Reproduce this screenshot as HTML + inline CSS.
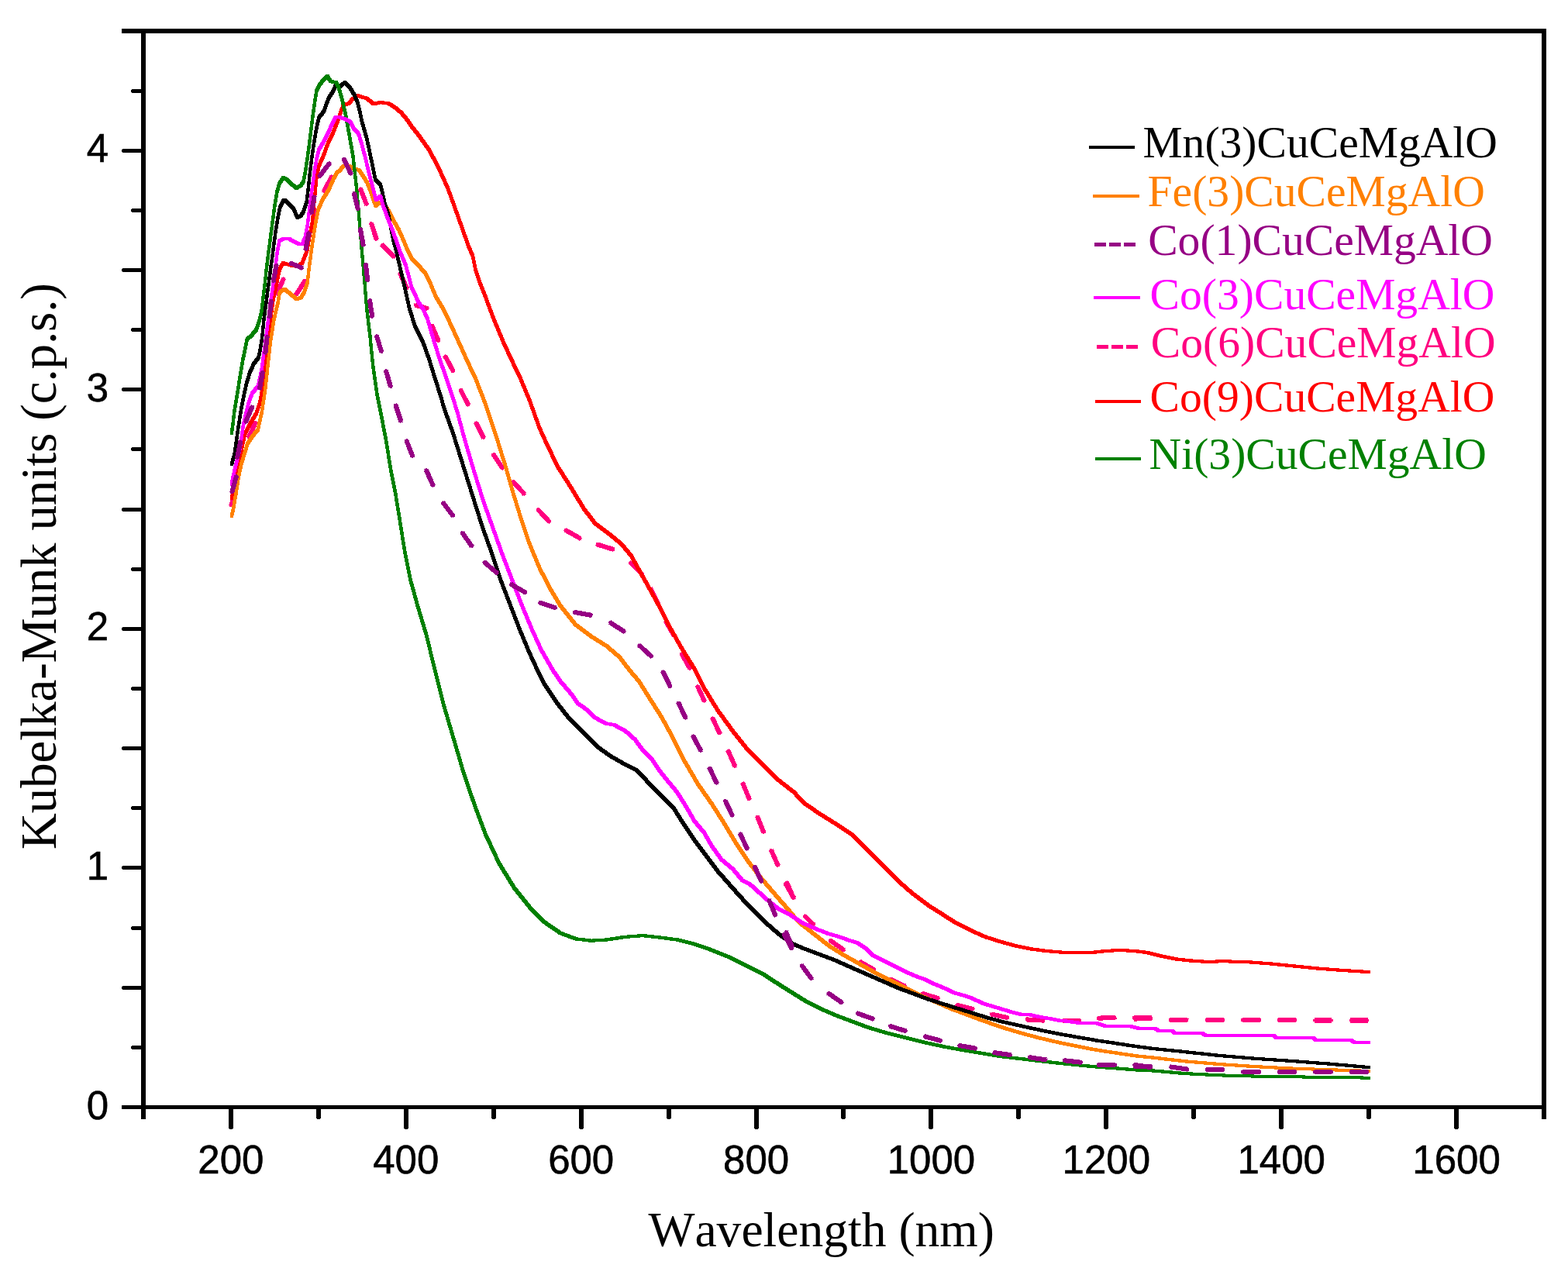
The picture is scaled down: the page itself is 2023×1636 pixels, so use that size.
<!DOCTYPE html>
<html lang="en"><head><meta charset="utf-8"><title>Kubelka-Munk spectra</title>
<style>
html,body{margin:0;padding:0;background:#fff;}
body{width:2023px;height:1636px;overflow:hidden;}
svg{display:block;}
.tk{font-family:"Liberation Sans",sans-serif;font-size:51px;fill:#000;stroke:#000;stroke-width:0.6px;}
.ti{font-family:"Liberation Serif",serif;fill:#000;font-kerning:none;}
.lg{font-family:"Liberation Serif",serif;font-size:57.6px;}
.cv{fill:none;stroke-width:4;stroke-linejoin:round;stroke-linecap:round;}
.ds{fill:none;stroke-width:6.2;stroke-linecap:round;}
</style></head><body>
<svg width="2023" height="1636" viewBox="0 0 2023 1636">
<rect x="0" y="0" width="2023" height="1636" fill="#ffffff"/>
<g shape-rendering="crispEdges">
<path fill="none" stroke="#FF0080" stroke-width="3.7" d="M298.0,654.1L304.5,629.4M320.1,566.5L330.5,543.2M355.8,380.9L366.8,358.0M380.8,382.0L394.6,360.5M403.0,293.1L406.5,267.9M416.8,248.6L429.1,226.2M464.3,241.9L473.7,265.7M478.4,286.2L486.3,310.4M491.5,314.7L509.6,332.8M515.3,350.8L526.0,373.9M534.0,393.0L553.2,398.6M556.5,418.2L566.4,441.6M573.5,458.0L585.6,480.5M593.3,501.2L604.9,523.9M613.3,543.8L624.8,566.5M635.5,584.7L649.6,606.0M660.5,620.0L677.8,638.7M692.6,655.8L709.9,674.5M727.8,683.0L750.1,695.5M768.8,701.9L793.2,709.4M812.1,724.7L830.2,742.8M838.3,757.5L849.7,780.4M858.1,799.9L870.7,822.1M878.6,841.9L891.0,864.3M899.1,883.3L909.6,906.4M918.5,924.9L929.4,948.0M938.7,967.0L949.0,990.4M957.8,1009.1L967.4,1032.8M976.4,1052.0L986.0,1075.6M994.2,1095.2L1004.5,1118.5M1012.6,1138.4L1025.3,1160.5M1014.3,1136.8L1024.5,1160.2M1037.0,1180.4L1051.2,1194.5M1069.5,1212.3L1090.4,1226.8M1107.8,1239.8L1129.9,1252.5M1146.2,1262.4L1169.4,1273.2M1188.2,1281.3L1212.6,1288.9M1232.5,1296.2L1257.3,1302.4M1276.9,1308.2L1301.9,1313.4M1323.0,1315.3L1348.4,1316.7M1369.3,1316.6L1394.8,1316.6M1415.1,1313.7L1440.5,1312.8M1461.4,1312.8L1486.9,1313.5M1461.7,1314.6L1487.2,1313.8M1508.0,1315.8L1533.5,1316.2M1554.7,1315.8L1580.2,1315.8M1601.3,1315.8L1626.8,1315.8M1647.7,1315.8L1673.2,1315.8M1694.2,1316.5L1719.7,1316.5M1740.8,1316.5L1766.2,1316.5"/>
<path fill="none" stroke="#FF0080" stroke-width="6.1" d="M298.3,652.8L304.2,630.7M320.6,565.3L330.0,544.4M356.4,379.7L366.2,359.2M381.5,380.9L393.9,361.6M403.2,291.8L406.3,269.2M417.4,247.5L428.5,227.3M464.8,243.1L473.2,264.5M478.8,287.4L485.9,309.2M492.4,315.6L508.7,331.9M515.8,352.0L525.5,372.7M535.2,393.4L552.0,398.2M557.0,419.4L565.9,440.4M574.1,459.1L585.0,479.4M593.9,502.4L604.3,522.7M613.9,545.0L624.2,565.3M636.2,585.8L648.9,604.9M661.4,621.0L676.9,637.7M693.5,656.8L709.0,673.5M728.9,683.6L749.0,694.9M770.0,702.3L792.0,709.0M813.0,725.6L829.3,741.9M838.9,758.7L849.1,779.2M858.7,801.0L870.1,821.0M879.2,843.0L890.4,863.2M899.6,884.5L909.1,905.2M919.1,926.1L928.8,946.8M939.2,968.2L948.5,989.2M958.3,1010.3L966.9,1031.6M976.9,1053.2L985.5,1074.4M994.7,1096.4L1004.0,1117.3M1013.2,1139.5L1024.7,1159.4M1014.8,1138.0L1024.0,1159.0M1037.9,1181.3L1050.3,1193.6M1070.6,1213.0L1089.3,1226.1M1108.9,1240.4L1128.8,1251.9M1147.4,1262.9L1168.2,1272.7M1189.4,1281.7L1211.4,1288.5M1233.8,1296.5L1256.0,1302.1M1278.2,1308.5L1300.6,1313.1M1324.3,1315.4L1347.1,1316.6M1370.6,1316.6L1393.5,1316.6M1416.4,1313.7L1439.2,1312.8M1462.7,1312.8L1485.6,1313.5M1463.0,1314.6L1485.9,1313.8M1509.3,1315.8L1532.2,1316.2M1556.0,1315.8L1578.9,1315.8M1602.6,1315.8L1625.5,1315.8M1649.0,1315.8L1671.9,1315.8M1695.5,1316.5L1718.4,1316.5M1742.1,1316.5L1764.9,1316.5"/>
<path fill="#FF0000" fill-rule="nonzero" d="M296.7,640.5 299.8,630.1 303.8,630.1 303.8,634.1 300.7,644.5 296.7,644.5ZM299.8,630.1 303.2,612.3 307.2,612.3 307.2,616.3 303.8,634.1 299.8,634.1ZM303.2,612.3 307,594.4 311,594.4 311,598.4 307.2,616.3 303.2,616.3ZM307,594.4 310.4,574.4 314.4,574.4 314.4,578.4 311,598.4 307,598.4ZM310.4,574.4 313.9,558.6 317.9,558.6 317.9,562.6 314.4,578.4 310.4,578.4ZM313.9,558.6 321.1,543.8 325.1,543.8 325.1,547.8 317.9,562.6 313.9,562.6ZM321.1,543.8 328.5,531.9 332.5,531.9 332.5,535.9 325.1,547.8 321.1,547.8ZM328.5,531.9 333,518.5 337,518.5 337,522.5 332.5,535.9 328.5,535.9ZM333,518.5 336.7,499.2 340.7,499.2 340.7,503.2 337,522.5 333,522.5ZM336.7,499.2 339.6,476.9 343.6,476.9 343.6,480.9 340.7,503.2 336.7,503.2ZM339.6,476.9 341.9,454.7 345.9,454.7 345.9,458.7 343.6,480.9 339.6,480.9ZM341.9,454.7 344.8,425 348.8,425 348.8,429 345.9,458.7 341.9,458.7ZM344.8,425 347.8,404.2 351.8,404.2 351.8,408.2 348.8,429 344.8,429ZM347.8,404.2 350.8,383.4 354.8,383.4 354.8,387.4 351.8,408.2 347.8,408.2ZM350.8,383.4 355.2,362.6 359.2,362.6 359.2,366.6 354.8,387.4 350.8,387.4ZM355.2,362.6 358.9,344.8 362.9,344.8 362.9,348.8 359.2,366.6 355.2,366.6ZM358.9,344.8 363.4,337.3 367.4,337.3 367.4,341.3 362.9,348.8 358.9,348.8ZM363.4,337.3 367.4,337.3 377.1,340.3 377.1,344.3 373.1,344.3 363.4,341.3ZM373.1,340.3 377.1,340.3 386,341.8 386,345.8 382,345.8 373.1,344.3ZM382,341.8 387.9,337.3 391.9,337.3 391.9,341.3 386,345.8 382,345.8ZM387.9,337.3 394.4,321 398.4,321 398.4,325 391.9,341.3 387.9,341.3ZM394.4,321 397.7,300.8 401.7,300.8 401.7,304.8 398.4,325 394.4,325ZM397.7,300.8 400.7,285.9 404.7,285.9 404.7,289.9 401.7,304.8 397.7,304.8ZM400.7,285.9 404.4,248.8 408.4,248.8 408.4,252.8 404.7,289.9 400.7,289.9ZM404.4,248.8 406.6,226.5 410.6,226.5 410.6,230.5 408.4,252.8 404.4,252.8ZM406.6,226.5 409.6,211.7 413.6,211.7 413.6,215.7 410.6,230.5 406.6,230.5ZM409.6,211.7 415.5,198.3 419.5,198.3 419.5,202.3 413.6,215.7 409.6,215.7ZM415.5,198.3 421.5,182 425.5,182 425.5,186 419.5,202.3 415.5,202.3ZM421.5,182 427.4,170.1 431.4,170.1 431.4,174.1 425.5,186 421.5,186ZM427.4,170.1 433.3,155.2 437.3,155.2 437.3,159.2 431.4,174.1 427.4,174.1ZM433.3,155.2 437.8,141.9 441.8,141.9 441.8,145.9 437.3,159.2 433.3,159.2ZM437.8,141.9 441.4,133 445.4,133 445.4,137 441.8,145.9 437.8,145.9ZM441.4,133 447.3,132.2 451.3,132.2 451.3,136.2 445.4,137 441.4,137ZM447.3,132.2 453.3,125.5 457.3,125.5 457.3,129.5 451.3,136.2 447.3,136.2ZM453.3,125.5 459.2,121.1 463.2,121.1 463.2,125.1 457.3,129.5 453.3,129.5ZM459.2,121.1 463.2,121.1 469.1,123.3 469.1,127.3 465.1,127.3 459.2,125.1ZM465.1,123.3 469.1,123.3 475.1,124.8 475.1,128.8 471.1,128.8 465.1,127.3ZM471.1,124.8 475.1,124.8 484,132.2 484,136.2 480,136.2 471.1,128.8ZM480,132.2 488.9,130 492.9,130 492.9,134 484,136.2 480,136.2ZM488.9,130 492.9,130 503.3,131.5 503.3,135.5 499.3,135.5 488.9,134ZM499.3,131.5 503.3,131.5 510.7,135.9 510.7,139.9 506.7,139.9 499.3,135.5ZM506.7,135.9 510.7,135.9 519.6,143.3 519.6,147.3 515.6,147.3 506.7,139.9ZM515.6,143.3 519.6,143.3 527.1,152.3 527.1,156.3 523.1,156.3 515.6,147.3ZM523.1,152.3 527.1,152.3 533,161.2 533,165.2 529,165.2 523.1,156.3ZM529,161.2 533,161.2 540.4,170.1 540.4,174.1 536.4,174.1 529,165.2ZM536.4,170.1 540.4,170.1 547.9,180.5 547.9,184.5 543.9,184.5 536.4,174.1ZM543.9,180.5 547.9,180.5 555.3,190.9 555.3,194.9 551.3,194.9 543.9,184.5ZM551.3,190.9 555.3,190.9 562,203.4 562,207.4 558,207.4 551.3,194.9ZM558,203.4 562,203.4 570.9,221.2 570.9,225.2 566.9,225.2 558,207.4ZM566.9,221.2 570.9,221.2 579.8,240.8 579.8,244.8 575.8,244.8 566.9,225.2ZM575.8,240.8 579.8,240.8 588.8,265.8 588.8,269.8 584.8,269.8 575.8,244.8ZM584.8,265.8 588.8,265.8 597.7,290.8 597.7,294.8 593.7,294.8 584.8,269.8ZM593.7,290.8 597.7,290.8 606.6,315.8 606.6,319.8 602.6,319.8 593.7,294.8ZM602.6,315.8 606.6,315.8 612,328.3 612,332.3 608,332.3 602.6,319.8ZM608,328.3 612,328.3 615.5,346.1 615.5,350.1 611.5,350.1 608,332.3ZM611.5,346.1 615.5,346.1 620.9,362.2 620.9,366.2 616.9,366.2 611.5,350.1ZM616.9,362.2 620.9,362.2 628,380 628,384 624,384 616.9,366.2ZM624,380 628,380 635.2,399.7 635.2,403.7 631.2,403.7 624,384ZM631.2,399.7 635.2,399.7 642.3,417.5 642.3,421.5 638.3,421.5 631.2,403.7ZM638.3,417.5 642.3,417.5 651.2,438.9 651.2,442.9 647.2,442.9 638.3,421.5ZM647.2,438.9 651.2,438.9 661.9,462.1 661.9,466.1 657.9,466.1 647.2,442.9ZM657.9,462.1 661.9,462.1 673,485.2 673,489.2 669,489.2 657.9,466.1ZM669,485.2 673,485.2 685.4,514.8 685.4,518.8 681.4,518.8 669,489.2ZM681.4,514.8 685.4,514.8 697.7,549.4 697.7,553.4 693.7,553.4 681.4,518.8ZM693.7,549.4 697.7,549.4 710.1,576.6 710.1,580.6 706.1,580.6 693.7,553.4ZM706.1,576.6 710.1,576.6 722.4,601.4 722.4,605.4 718.4,605.4 706.1,580.6ZM718.4,601.4 722.4,601.4 739.7,628.5 739.7,632.5 735.7,632.5 718.4,605.4ZM735.7,628.5 739.7,628.5 754.6,653.3 754.6,657.3 750.6,657.3 735.7,632.5ZM750.6,653.3 754.6,653.3 769.4,673 769.4,677 765.4,677 750.6,657.3ZM765.4,673 769.4,673 789.2,687.9 789.2,691.9 785.2,691.9 765.4,677ZM785.2,687.9 789.2,687.9 804,700.2 804,704.2 800,704.2 785.2,691.9ZM800,700.2 804,700.2 816.3,715 816.3,719 812.3,719 800,704.2ZM812.3,715 816.3,715 828.7,737.3 828.7,741.3 824.7,741.3 812.3,719ZM824.7,737.3 828.7,737.3 841.1,759.5 841.1,763.5 837.1,763.5 824.7,741.3ZM837.1,759.5 841.1,759.5 853.4,781.8 853.4,785.8 849.4,785.8 837.1,763.5ZM849.4,781.8 853.4,781.8 865.8,806.5 865.8,810.5 861.8,810.5 849.4,785.8ZM861.8,806.5 865.8,806.5 882.5,836.2 882.5,840.2 878.5,840.2 861.8,810.5ZM878.5,836.2 882.5,836.2 898.9,862.3 898.9,866.3 894.9,866.3 878.5,840.2ZM894.9,862.3 898.9,862.3 911,886.7 911,890.7 907,890.7 894.9,866.3ZM907,886.7 911,886.7 927.6,913.9 927.6,917.9 923.6,917.9 907,890.7ZM923.6,913.9 927.6,913.9 947.3,941.1 947.3,945.1 943.3,945.1 923.6,917.9ZM943.3,941.1 947.3,941.1 967.1,965.8 967.1,969.8 963.1,969.8 943.3,945.1ZM963.1,965.8 967.1,965.8 986.9,985.6 986.9,989.6 982.9,989.6 963.1,969.8ZM982.9,985.6 986.9,985.6 1004.2,1002.9 1004.2,1006.9 1000.2,1006.9 982.9,989.6ZM1000.2,1002.9 1004.2,1002.9 1026.4,1020.2 1026.4,1024.2 1022.4,1024.2 1000.2,1006.9ZM1022.4,1020.2 1026.4,1020.2 1039.3,1034.1 1039.3,1038.1 1035.3,1038.1 1022.4,1024.2ZM1035.3,1034.1 1039.3,1034.1 1059.1,1047.7 1059.1,1051.7 1055.1,1051.7 1035.3,1038.1ZM1055.1,1047.7 1059.1,1047.7 1078.8,1060 1078.8,1064 1074.8,1064 1055.1,1051.7ZM1074.8,1060 1078.8,1060 1101.1,1074.8 1101.1,1078.8 1097.1,1078.8 1074.8,1064ZM1097.1,1074.8 1101.1,1074.8 1120.9,1094.6 1120.9,1098.6 1116.9,1098.6 1097.1,1078.8ZM1116.9,1094.6 1120.9,1094.6 1140.6,1114.4 1140.6,1118.4 1136.6,1118.4 1116.9,1098.6ZM1136.6,1114.4 1140.6,1114.4 1160.4,1134.2 1160.4,1138.2 1156.4,1138.2 1136.6,1118.4ZM1156.4,1134.2 1160.4,1134.2 1180.2,1151.5 1180.2,1155.5 1176.2,1155.5 1156.4,1138.2ZM1176.2,1151.5 1180.2,1151.5 1200,1166.3 1200,1170.3 1196,1170.3 1176.2,1155.5ZM1196,1166.3 1200,1166.3 1219.7,1178.7 1219.7,1182.7 1215.7,1182.7 1196,1170.3ZM1215.7,1178.7 1219.7,1178.7 1234.6,1188.5 1234.6,1192.5 1230.6,1192.5 1215.7,1182.7ZM1230.6,1188.5 1234.6,1188.5 1254.3,1198.4 1254.3,1202.4 1250.3,1202.4 1230.6,1192.5ZM1250.3,1198.4 1254.3,1198.4 1274.1,1207.1 1274.1,1211.1 1270.1,1211.1 1250.3,1202.4ZM1270.1,1207.1 1274.1,1207.1 1293.9,1213.3 1293.9,1217.3 1289.9,1217.3 1270.1,1211.1ZM1289.9,1213.3 1293.9,1213.3 1313.6,1218.7 1313.6,1222.7 1309.6,1222.7 1289.9,1217.3ZM1309.6,1218.7 1313.6,1218.7 1333.4,1222.6 1333.4,1226.6 1329.4,1226.6 1309.6,1222.7ZM1329.4,1222.6 1333.4,1222.6 1353.2,1225.1 1353.2,1229.1 1349.2,1229.1 1329.4,1226.6ZM1349.2,1225.1 1353.2,1225.1 1373,1226.8 1373,1230.8 1369,1230.8 1349.2,1229.1ZM1369,1226.8 1373,1226.8 1392.7,1227.1 1392.7,1231.1 1388.7,1231.1 1369,1230.8ZM1388.7,1227.1 1408.5,1226.8 1412.5,1226.8 1412.5,1230.8 1392.7,1231.1 1388.7,1231.1ZM1408.5,1226.8 1423.3,1225.1 1427.3,1225.1 1427.3,1229.1 1412.5,1230.8 1408.5,1230.8ZM1423.3,1225.1 1443.1,1223.9 1447.1,1223.9 1447.1,1227.9 1427.3,1229.1 1423.3,1229.1ZM1443.1,1223.9 1447.1,1223.9 1466.9,1225.1 1466.9,1229.1 1462.9,1229.1 1443.1,1227.9ZM1462.9,1225.1 1466.9,1225.1 1482,1227.1 1482,1231.1 1478,1231.1 1462.9,1229.1ZM1478,1227.1 1482,1227.1 1501,1231.8 1501,1235.8 1497,1235.8 1478,1231.1ZM1497,1231.8 1501,1231.8 1521.6,1235.8 1521.6,1239.8 1517.6,1239.8 1497,1235.8ZM1517.6,1235.8 1521.6,1235.8 1545.3,1238.2 1545.3,1242.2 1541.3,1242.2 1517.6,1239.8ZM1541.3,1238.2 1545.3,1238.2 1564.3,1239 1564.3,1243 1560.3,1243 1541.3,1242.2ZM1560.3,1239 1573,1238.2 1577,1238.2 1577,1242.2 1564.3,1243 1560.3,1243ZM1573,1238.2 1577,1238.2 1608.7,1239 1608.7,1243 1604.7,1243 1573,1242.2ZM1604.7,1239 1608.7,1239 1640.3,1241.3 1640.3,1245.3 1636.3,1245.3 1604.7,1243ZM1636.3,1241.3 1640.3,1241.3 1672,1244.5 1672,1248.5 1668,1248.5 1636.3,1245.3ZM1668,1244.5 1672,1244.5 1703.7,1247.7 1703.7,1251.7 1699.7,1251.7 1668,1248.5ZM1699.7,1247.7 1703.7,1247.7 1735.3,1250 1735.3,1254 1731.3,1254 1699.7,1251.7ZM1731.3,1250 1735.3,1250 1767.8,1252.1 1767.8,1256.1 1763.8,1256.1 1731.3,1254Z"/>
<path fill="#FF8000" fill-rule="nonzero" d="M296.7,664.2 299.2,653.8 303.2,653.8 303.2,657.8 300.7,668.2 296.7,668.2ZM299.2,653.8 302.5,634.5 306.5,634.5 306.5,638.5 303.2,657.8 299.2,657.8ZM302.5,634.5 305.5,615.2 309.5,615.2 309.5,619.2 306.5,638.5 302.5,638.5ZM305.5,615.2 309.2,597.4 313.2,597.4 313.2,601.4 309.5,619.2 305.5,619.2ZM309.2,597.4 313.6,582.6 317.6,582.6 317.6,586.6 313.2,601.4 309.2,601.4ZM313.6,582.6 317.4,570.7 321.4,570.7 321.4,574.7 317.6,586.6 313.6,586.6ZM317.4,570.7 324,560.3 328,560.3 328,564.3 321.4,574.7 317.4,574.7ZM324,560.3 330.7,552.7 334.7,552.7 334.7,556.7 328,564.3 324,564.3ZM330.7,552.7 335.9,528.9 339.9,528.9 339.9,532.9 334.7,556.7 330.7,556.7ZM335.9,528.9 340.4,499.2 344.4,499.2 344.4,503.2 339.9,532.9 335.9,532.9ZM340.4,499.2 343.6,469.5 347.6,469.5 347.6,473.5 344.4,503.2 340.4,503.2ZM343.6,469.5 346.8,439.8 350.8,439.8 350.8,443.8 347.6,473.5 343.6,473.5ZM346.8,439.8 351.5,410.1 355.5,410.1 355.5,414.1 350.8,443.8 346.8,443.8ZM351.5,410.1 356.7,387.8 360.7,387.8 360.7,391.8 355.5,414.1 351.5,414.1ZM356.7,387.8 358.9,375.2 362.9,375.2 362.9,379.2 360.7,391.8 356.7,391.8ZM358.9,375.2 364.9,370.8 368.9,370.8 368.9,374.8 362.9,379.2 358.9,379.2ZM364.9,370.8 368.9,370.8 377.1,377.4 377.1,381.4 373.1,381.4 364.9,374.8ZM373.1,377.4 377.1,377.4 384.5,384.1 384.5,388.1 380.5,388.1 373.1,381.4ZM380.5,384.1 386.4,381.9 390.4,381.9 390.4,385.9 384.5,388.1 380.5,388.1ZM386.4,381.9 390.9,374.5 394.9,374.5 394.9,378.5 390.4,385.9 386.4,385.9ZM390.9,374.5 394.6,362.6 398.6,362.6 398.6,366.6 394.9,378.5 390.9,378.5ZM394.6,362.6 396.8,343.3 400.8,343.3 400.8,347.3 398.6,366.6 394.6,366.6ZM396.8,343.3 399.8,321 403.8,321 403.8,325 400.8,347.3 396.8,347.3ZM399.8,321 402.8,300.8 406.8,300.8 406.8,304.8 403.8,325 399.8,325ZM402.8,300.8 405.7,283 409.7,283 409.7,287 406.8,304.8 402.8,304.8ZM405.7,283 408.7,268.1 412.7,268.1 412.7,272.1 409.7,287 405.7,287ZM408.7,268.1 414.6,254.7 418.6,254.7 418.6,258.7 412.7,272.1 408.7,272.1ZM414.6,254.7 422.1,242.9 426.1,242.9 426.1,246.9 418.6,258.7 414.6,258.7ZM422.1,242.9 428,229.5 432,229.5 432,233.5 426.1,246.9 422.1,246.9ZM428,229.5 432.5,220.6 436.5,220.6 436.5,224.6 432,233.5 428,233.5ZM432.5,220.6 436.9,217.6 440.9,217.6 440.9,221.6 436.5,224.6 432.5,224.6ZM436.9,217.6 441.4,211.7 445.4,211.7 445.4,215.7 440.9,221.6 436.9,221.6ZM441.4,211.7 445.4,211.7 452.8,212.4 452.8,216.4 448.8,216.4 441.4,215.7ZM448.8,212.4 452.8,212.4 458.7,216.1 458.7,220.1 454.7,220.1 448.8,216.4ZM454.7,216.1 458.7,216.1 464.7,216.9 464.7,220.9 460.7,220.9 454.7,220.1ZM460.7,216.9 464.7,216.9 470.6,225 470.6,229 466.6,229 460.7,220.9ZM466.6,225 470.6,225 475.1,232.5 475.1,236.5 471.1,236.5 466.6,229ZM471.1,232.5 475.1,232.5 479.5,242.9 479.5,246.9 475.5,246.9 471.1,236.5ZM475.5,242.9 479.5,242.9 483.2,254.7 483.2,258.7 479.2,258.7 475.5,246.9ZM479.2,254.7 483.2,254.7 487,263.7 487,267.7 483,267.7 479.2,258.7ZM483,263.7 487.4,259.2 491.4,259.2 491.4,263.2 487,267.7 483,267.7ZM487.4,259.2 491.4,259.2 497.4,262.2 497.4,266.2 493.4,266.2 487.4,263.2ZM493.4,262.2 497.4,262.2 503.3,269.6 503.3,273.6 499.3,273.6 493.4,266.2ZM499.3,269.6 503.3,269.6 509.2,281.5 509.2,285.5 505.2,285.5 499.3,273.6ZM505.2,281.5 509.2,281.5 516.7,294.8 516.7,298.8 512.7,298.8 505.2,285.5ZM512.7,294.8 516.7,294.8 522.6,308.2 522.6,312.2 518.6,312.2 512.7,298.8ZM518.6,308.2 522.6,308.2 527.8,321 527.8,325 523.8,325 518.6,312.2ZM523.8,321 527.8,321 533,331.4 533,335.4 529,335.4 523.8,325ZM529,331.4 533,331.4 541.9,340.3 541.9,344.3 537.9,344.3 529,335.4ZM537.9,340.3 541.9,340.3 550.8,350.7 550.8,354.7 546.8,354.7 537.9,344.3ZM546.8,350.7 550.8,350.7 556.8,362.6 556.8,366.6 552.8,366.6 546.8,354.7ZM552.8,362.6 556.8,362.6 564.2,380.4 564.2,384.4 560.2,384.4 552.8,366.6ZM560.2,380.4 564.2,380.4 573.1,395.3 573.1,399.3 569.1,399.3 560.2,384.4ZM569.1,395.3 573.1,395.3 579.8,408.6 579.8,412.6 575.8,412.6 569.1,399.3ZM575.8,408.6 579.8,408.6 588.8,428.2 588.8,432.2 584.8,432.2 575.8,412.6ZM584.8,428.2 588.8,428.2 597.7,447.9 597.7,451.9 593.7,451.9 584.8,432.2ZM593.7,447.9 597.7,447.9 606.6,467.5 606.6,471.5 602.6,471.5 593.7,451.9ZM602.6,467.5 606.6,467.5 616.1,487.7 616.1,491.7 612.1,491.7 602.6,471.5ZM612.1,487.7 616.1,487.7 628.5,519.8 628.5,523.8 624.5,523.8 612.1,491.7ZM624.5,519.8 628.5,519.8 640.9,556.9 640.9,560.9 636.9,560.9 624.5,523.8ZM636.9,556.9 640.9,556.9 653.2,596.4 653.2,600.4 649.2,600.4 636.9,560.9ZM649.2,596.4 653.2,596.4 663.1,631 663.1,635 659.1,635 649.2,600.4ZM659.1,631 663.1,631 673,663.1 673,667.1 669,667.1 659.1,635ZM669,663.1 673,663.1 685.4,700.2 685.4,704.2 681.4,704.2 669,667.1ZM681.4,700.2 685.4,700.2 697.7,729.9 697.7,733.9 693.7,733.9 681.4,704.2ZM693.7,729.9 697.7,729.9 710.1,754.6 710.1,758.6 706.1,758.6 693.7,733.9ZM706.1,754.6 710.1,754.6 724.9,779.3 724.9,783.3 720.9,783.3 706.1,758.6ZM720.9,779.3 724.9,779.3 744.7,804 744.7,808 740.7,808 720.9,783.3ZM740.7,804 744.7,804 764.4,818.9 764.4,822.9 760.4,822.9 740.7,808ZM760.4,818.9 764.4,818.9 784.2,831.2 784.2,835.2 780.2,835.2 760.4,822.9ZM780.2,831.2 784.2,831.2 801.5,846 801.5,850 797.5,850 780.2,835.2ZM797.5,846 801.5,846 813.9,862.3 813.9,866.3 809.9,866.3 797.5,850ZM809.9,862.3 813.9,862.3 826.2,876.8 826.2,880.8 822.2,880.8 809.9,866.3ZM822.2,876.8 826.2,876.8 838.6,896.6 838.6,900.6 834.6,900.6 822.2,880.8ZM834.6,896.6 838.6,896.6 855.9,923.8 855.9,927.8 851.9,927.8 834.6,900.6ZM851.9,923.8 855.9,923.8 870.7,951 870.7,955 866.7,955 851.9,927.8ZM866.7,951 870.7,951 885.5,980.6 885.5,984.6 881.5,984.6 866.7,955ZM881.5,980.6 885.5,980.6 902.9,1010.3 902.9,1014.3 898.9,1014.3 881.5,984.6ZM898.9,1010.3 902.9,1010.3 920.2,1035 920.2,1039 916.2,1039 898.9,1014.3ZM916.2,1035 920.2,1035 937.5,1062.2 937.5,1066.2 933.5,1066.2 916.2,1039ZM933.5,1062.2 937.5,1062.2 952.3,1086.9 952.3,1090.9 948.3,1090.9 933.5,1066.2ZM948.3,1086.9 952.3,1086.9 967.1,1109.2 967.1,1113.2 963.1,1113.2 948.3,1090.9ZM963.1,1109.2 967.1,1109.2 984.4,1131.4 984.4,1135.4 980.4,1135.4 963.1,1113.2ZM980.4,1131.4 984.4,1131.4 999.2,1148.7 999.2,1152.7 995.2,1152.7 980.4,1135.4ZM995.2,1148.7 999.2,1148.7 1014.1,1166 1014.1,1170 1010.1,1170 995.2,1152.7ZM1010.1,1166 1014.1,1166 1028.9,1183.3 1028.9,1187.3 1024.9,1187.3 1010.1,1170ZM1024.9,1183.3 1028.9,1183.3 1036.8,1191 1036.8,1195 1032.8,1195 1024.9,1187.3ZM1032.8,1191 1036.8,1191 1054.1,1204.6 1054.1,1208.6 1050.1,1208.6 1032.8,1195ZM1050.1,1204.6 1054.1,1204.6 1071.4,1218.2 1071.4,1222.2 1067.4,1222.2 1050.1,1208.6ZM1067.4,1218.2 1071.4,1218.2 1091.2,1230.6 1091.2,1234.6 1087.2,1234.6 1067.4,1222.2ZM1087.2,1230.6 1091.2,1230.6 1111,1241.7 1111,1245.7 1107,1245.7 1087.2,1234.6ZM1107,1241.7 1111,1241.7 1130.7,1252.8 1130.7,1256.8 1126.7,1256.8 1107,1245.7ZM1126.7,1252.8 1130.7,1252.8 1150.5,1262.7 1150.5,1266.7 1146.5,1266.7 1126.7,1256.8ZM1146.5,1262.7 1150.5,1262.7 1170.3,1272.6 1170.3,1276.6 1166.3,1276.6 1146.5,1266.7ZM1166.3,1272.6 1170.3,1272.6 1190.1,1282.5 1190.1,1286.5 1186.1,1286.5 1166.3,1276.6ZM1186.1,1282.5 1190.1,1282.5 1209.8,1291.1 1209.8,1295.1 1205.8,1295.1 1186.1,1286.5ZM1205.8,1291.1 1209.8,1291.1 1229.6,1299.8 1229.6,1303.8 1225.6,1303.8 1205.8,1295.1ZM1225.6,1299.8 1229.6,1299.8 1249.4,1307.2 1249.4,1311.2 1245.4,1311.2 1225.6,1303.8ZM1245.4,1307.2 1249.4,1307.2 1269.2,1314.6 1269.2,1318.6 1265.2,1318.6 1245.4,1311.2ZM1265.2,1314.6 1269.2,1314.6 1293.9,1323.2 1293.9,1327.2 1289.9,1327.2 1265.2,1318.6ZM1289.9,1323.2 1293.9,1323.2 1318.6,1330.7 1318.6,1334.7 1314.6,1334.7 1289.9,1327.2ZM1314.6,1330.7 1318.6,1330.7 1343.3,1337.3 1343.3,1341.3 1339.3,1341.3 1314.6,1334.7ZM1339.3,1337.3 1343.3,1337.3 1368,1343 1368,1347 1364,1347 1339.3,1341.3ZM1364,1343 1368,1343 1392.7,1348 1392.7,1352 1388.7,1352 1364,1347ZM1388.7,1348 1392.7,1348 1417.5,1352.9 1417.5,1356.9 1413.5,1356.9 1388.7,1352ZM1413.5,1352.9 1417.5,1352.9 1442.2,1356.6 1442.2,1360.6 1438.2,1360.6 1413.5,1356.9ZM1438.2,1356.6 1442.2,1356.6 1466.9,1360.3 1466.9,1364.3 1462.9,1364.3 1438.2,1360.6ZM1462.9,1360.3 1466.9,1360.3 1491.6,1362.8 1491.6,1366.8 1487.6,1366.8 1462.9,1364.3ZM1487.6,1362.8 1491.6,1362.8 1529.5,1367.2 1529.5,1371.2 1525.5,1371.2 1487.6,1366.8ZM1525.5,1367.2 1529.5,1367.2 1577,1371.2 1577,1375.2 1573,1375.2 1525.5,1371.2ZM1573,1371.2 1577,1371.2 1624.5,1374.3 1624.5,1378.3 1620.5,1378.3 1573,1375.2ZM1620.5,1374.3 1624.5,1374.3 1672,1376.7 1672,1380.7 1668,1380.7 1620.5,1378.3ZM1668,1376.7 1672,1376.7 1719.5,1378.3 1719.5,1382.3 1715.5,1382.3 1668,1380.7ZM1715.5,1378.3 1719.5,1378.3 1767.8,1379.9 1767.8,1383.9 1763.8,1383.9 1715.5,1382.3Z"/>
<path fill="#000000" fill-rule="nonzero" d="M296.7,597.4 300.6,584 304.6,584 304.6,588 300.7,601.4 296.7,601.4ZM300.6,584 302.8,567.7 306.8,567.7 306.8,571.7 304.6,588 300.6,588ZM302.8,567.7 308.1,531.9 312.1,531.9 312.1,535.9 306.8,571.7 302.8,571.7ZM308.1,531.9 311.8,512.6 315.8,512.6 315.8,516.6 312.1,535.9 308.1,535.9ZM311.8,512.6 315.5,494.8 319.5,494.8 319.5,498.8 315.8,516.6 311.8,516.6ZM315.5,494.8 319.9,479.9 323.9,479.9 323.9,483.9 319.5,498.8 315.5,498.8ZM319.9,479.9 325.1,468 329.1,468 329.1,472 323.9,483.9 319.9,483.9ZM325.1,468 331.8,459.1 335.8,459.1 335.8,463.1 329.1,472 325.1,472ZM331.8,459.1 334.1,447.2 338.1,447.2 338.1,451.2 335.8,463.1 331.8,463.1ZM334.1,447.2 336.3,432.4 340.3,432.4 340.3,436.4 338.1,451.2 334.1,451.2ZM336.3,432.4 338.5,410.1 342.5,410.1 342.5,414.1 340.3,436.4 336.3,436.4ZM338.5,410.1 341.5,387.8 345.5,387.8 345.5,391.8 342.5,414.1 338.5,414.1ZM341.5,387.8 344.4,365.6 348.4,365.6 348.4,369.6 345.5,391.8 341.5,391.8ZM344.4,365.6 347.4,343.3 351.4,343.3 351.4,347.3 348.4,369.6 344.4,369.6ZM347.4,343.3 350.4,321 354.4,321 354.4,325 351.4,347.3 347.4,347.3ZM350.4,321 353.4,297.8 357.4,297.8 357.4,301.8 354.4,325 350.4,325ZM353.4,297.8 356.3,280 360.3,280 360.3,284 357.4,301.8 353.4,301.8ZM356.3,280 359.3,265.1 363.3,265.1 363.3,269.1 360.3,284 356.3,284ZM359.3,265.1 362.3,259.2 366.3,259.2 366.3,263.2 363.3,269.1 359.3,269.1ZM362.3,259.2 364.9,255.5 368.9,255.5 368.9,259.5 366.3,263.2 362.3,263.2ZM364.9,255.5 368.9,255.5 375.2,262.2 375.2,266.2 371.2,266.2 364.9,259.5ZM371.2,262.2 375.2,262.2 381.1,268.1 381.1,272.1 377.1,272.1 371.2,266.2ZM377.1,268.1 381.1,268.1 385.6,278.5 385.6,282.5 381.6,282.5 377.1,272.1ZM381.6,278.5 386,276.3 390,276.3 390,280.3 385.6,282.5 381.6,282.5ZM386,276.3 389,272.6 393,272.6 393,276.6 390,280.3 386,280.3ZM389,272.6 393.5,259.2 397.5,259.2 397.5,263.2 393,276.6 389,276.6ZM393.5,259.2 395.7,241.4 399.7,241.4 399.7,245.4 397.5,263.2 393.5,263.2ZM395.7,241.4 397.9,220.6 401.9,220.6 401.9,224.6 399.7,245.4 395.7,245.4ZM397.9,220.6 400.9,196.8 404.9,196.8 404.9,200.8 401.9,224.6 397.9,224.6ZM400.9,196.8 404.6,173.1 408.6,173.1 408.6,177.1 404.9,200.8 400.9,200.8ZM404.6,173.1 406.8,161.2 410.8,161.2 410.8,165.2 408.6,177.1 404.6,177.1ZM406.8,161.2 409.8,149.3 413.8,149.3 413.8,153.3 410.8,165.2 406.8,165.2ZM409.8,149.3 415.7,141.9 419.7,141.9 419.7,145.9 413.8,153.3 409.8,153.3ZM415.7,141.9 421.7,125.5 425.7,125.5 425.7,129.5 419.7,145.9 415.7,145.9ZM421.7,125.5 427.1,116.6 431.1,116.6 431.1,120.6 425.7,129.5 421.7,129.5ZM427.1,116.6 431,108.4 435,108.4 435,112.4 431.1,120.6 427.1,120.6ZM431,108.4 435,108.4 439.4,110.7 439.4,114.7 435.4,114.7 431,112.4ZM435.4,110.7 442.9,104.4 446.9,104.4 446.9,108.4 439.4,114.7 435.4,114.7ZM442.9,104.4 446.9,104.4 454.3,112.2 454.3,116.2 450.3,116.2 442.9,108.4ZM450.3,112.2 454.3,112.2 458.7,119.6 458.7,123.6 454.7,123.6 450.3,116.2ZM454.7,119.6 458.7,119.6 463.2,130 463.2,134 459.2,134 454.7,123.6ZM459.2,130 463.2,130 466.2,141.9 466.2,145.9 462.2,145.9 459.2,134ZM462.2,141.9 466.2,141.9 469.1,155.2 469.1,159.2 465.1,159.2 462.2,145.9ZM465.1,155.2 469.1,155.2 475.1,176 475.1,180 471.1,180 465.1,159.2ZM471.1,176 475.1,176 479.5,196.8 479.5,200.8 475.5,200.8 471.1,180ZM475.5,196.8 479.5,196.8 483.2,214.6 483.2,218.6 479.2,218.6 475.5,200.8ZM479.2,214.6 483.2,214.6 486.2,229.5 486.2,233.5 482.2,233.5 479.2,218.6ZM482.2,229.5 486.2,229.5 492.9,236.9 492.9,240.9 488.9,240.9 482.2,233.5ZM488.9,236.9 492.9,236.9 495.9,248.8 495.9,252.8 491.9,252.8 488.9,240.9ZM491.9,248.8 495.9,248.8 498.8,262.2 498.8,266.2 494.8,266.2 491.9,252.8ZM494.8,262.2 498.8,262.2 503.3,275.5 503.3,279.5 499.3,279.5 494.8,266.2ZM499.3,275.5 503.3,275.5 506.3,291.9 506.3,295.9 502.3,295.9 499.3,279.5ZM502.3,291.9 506.3,291.9 509.2,306.7 509.2,310.7 505.2,310.7 502.3,295.9ZM505.2,306.7 509.2,306.7 513,321 513,325 509,325 505.2,310.7ZM509,321 513,321 518.2,343.3 518.2,347.3 514.2,347.3 509,325ZM514.2,343.3 518.2,343.3 524.1,368.5 524.1,372.5 520.1,372.5 514.2,347.3ZM520.1,368.5 524.1,368.5 530,395.3 530,399.3 526,399.3 520.1,372.5ZM526,395.3 530,395.3 537.5,419 537.5,423 533.5,423 526,399.3ZM533.5,419 537.5,419 547.9,439.8 547.9,443.8 543.9,443.8 533.5,423ZM543.9,439.8 547.9,439.8 555.3,460.6 555.3,464.6 551.3,464.6 543.9,443.8ZM551.3,460.6 555.3,460.6 562.7,484.4 562.7,488.4 558.7,488.4 551.3,464.6ZM558.7,484.4 562.7,484.4 571.6,512.6 571.6,516.6 567.6,516.6 558.7,488.4ZM567.6,512.6 571.6,512.6 574.1,522.3 574.1,526.3 570.1,526.3 567.6,516.6ZM570.1,522.3 574.1,522.3 586.5,556.9 586.5,560.9 582.5,560.9 570.1,526.3ZM582.5,556.9 586.5,556.9 598.8,596.4 598.8,600.4 594.8,600.4 582.5,560.9ZM594.8,596.4 598.8,596.4 611.2,636 611.2,640 607.2,640 594.8,600.4ZM607.2,636 611.2,636 623.6,675.5 623.6,679.5 619.6,679.5 607.2,640ZM619.6,675.5 623.6,675.5 635.9,710.1 635.9,714.1 631.9,714.1 619.6,679.5ZM631.9,710.1 635.9,710.1 648.3,747.2 648.3,751.2 644.3,751.2 631.9,714.1ZM644.3,747.2 648.3,747.2 660.6,779.3 660.6,783.3 656.6,783.3 644.3,751.2ZM656.6,779.3 660.6,779.3 673,811.4 673,815.4 669,815.4 656.6,783.3ZM669,811.4 673,811.4 685.4,841.1 685.4,845.1 681.4,845.1 669,815.4ZM681.4,841.1 685.4,841.1 695.2,862.3 695.2,866.3 691.2,866.3 681.4,845.1ZM691.2,862.3 695.2,862.3 705.1,881.8 705.1,885.8 701.1,885.8 691.2,866.3ZM701.1,881.8 705.1,881.8 720,904 720,908 716,908 701.1,885.8ZM716,904 720,904 737.3,926.3 737.3,930.3 733.3,930.3 716,908ZM733.3,926.3 737.3,926.3 754.6,943.6 754.6,947.6 750.6,947.6 733.3,930.3ZM750.6,943.6 754.6,943.6 771.9,960.9 771.9,964.9 767.9,964.9 750.6,947.6ZM767.9,960.9 771.9,960.9 789.2,973.2 789.2,977.2 785.2,977.2 767.9,964.9ZM785.2,973.2 789.2,973.2 806.5,983.1 806.5,987.1 802.5,987.1 785.2,977.2ZM802.5,983.1 806.5,983.1 823.8,991.8 823.8,995.8 819.8,995.8 802.5,987.1ZM819.8,991.8 823.8,991.8 838.6,1007.8 838.6,1011.8 834.6,1011.8 819.8,995.8ZM834.6,1007.8 838.6,1007.8 855.9,1025.1 855.9,1029.1 851.9,1029.1 834.6,1011.8ZM851.9,1025.1 855.9,1025.1 870.7,1040 870.7,1044 866.7,1044 851.9,1029.1ZM866.7,1040 870.7,1040 883.1,1059.7 883.1,1063.7 879.1,1063.7 866.7,1044ZM879.1,1059.7 883.1,1059.7 897.9,1082 897.9,1086 893.9,1086 879.1,1063.7ZM893.9,1082 897.9,1082 912.7,1101.7 912.7,1105.7 908.7,1105.7 893.9,1086ZM908.7,1101.7 912.7,1101.7 927.6,1121.5 927.6,1125.5 923.6,1125.5 908.7,1105.7ZM923.6,1121.5 927.6,1121.5 947.3,1143.8 947.3,1147.8 943.3,1147.8 923.6,1125.5ZM943.3,1143.8 947.3,1143.8 967.1,1166 967.1,1170 963.1,1170 943.3,1147.8ZM963.1,1166 967.1,1166 986.9,1185.8 986.9,1189.8 982.9,1189.8 963.1,1170ZM982.9,1185.8 986.9,1185.8 1006.7,1203.1 1006.7,1207.1 1002.7,1207.1 982.9,1189.8ZM1002.7,1203.1 1006.7,1203.1 1024,1215.4 1024,1219.4 1020,1219.4 1002.7,1207.1ZM1020,1215.4 1024,1215.4 1039.3,1221.9 1039.3,1225.9 1035.3,1225.9 1020,1219.4ZM1035.3,1221.9 1039.3,1221.9 1059.1,1229.3 1059.1,1233.3 1055.1,1233.3 1035.3,1225.9ZM1055.1,1229.3 1059.1,1229.3 1078.8,1236.7 1078.8,1240.7 1074.8,1240.7 1055.1,1233.3ZM1074.8,1236.7 1078.8,1236.7 1101.1,1246.6 1101.1,1250.6 1097.1,1250.6 1074.8,1240.7ZM1097.1,1246.6 1101.1,1246.6 1120.9,1255.3 1120.9,1259.3 1116.9,1259.3 1097.1,1250.6ZM1116.9,1255.3 1120.9,1255.3 1140.6,1263.9 1140.6,1267.9 1136.6,1267.9 1116.9,1259.3ZM1136.6,1263.9 1140.6,1263.9 1160.4,1272.6 1160.4,1276.6 1156.4,1276.6 1136.6,1267.9ZM1156.4,1272.6 1160.4,1272.6 1180.2,1280 1180.2,1284 1176.2,1284 1156.4,1276.6ZM1176.2,1280 1180.2,1280 1200,1287.4 1200,1291.4 1196,1291.4 1176.2,1284ZM1196,1287.4 1200,1287.4 1219.7,1293.6 1219.7,1297.6 1215.7,1297.6 1196,1291.4ZM1215.7,1293.6 1219.7,1293.6 1239.5,1299.8 1239.5,1303.8 1235.5,1303.8 1215.7,1297.6ZM1235.5,1299.8 1239.5,1299.8 1259.3,1305.9 1259.3,1309.9 1255.3,1309.9 1235.5,1303.8ZM1255.3,1305.9 1259.3,1305.9 1279,1312.1 1279,1316.1 1275,1316.1 1255.3,1309.9ZM1275,1312.1 1279,1312.1 1298.8,1317.1 1298.8,1321.1 1294.8,1321.1 1275,1316.1ZM1294.8,1317.1 1298.8,1317.1 1318.6,1321.5 1318.6,1325.5 1314.6,1325.5 1294.8,1321.1ZM1314.6,1321.5 1318.6,1321.5 1343.3,1326.9 1343.3,1330.9 1339.3,1330.9 1314.6,1325.5ZM1339.3,1326.9 1343.3,1326.9 1368,1331.9 1368,1335.9 1364,1335.9 1339.3,1330.9ZM1364,1331.9 1368,1331.9 1392.7,1336.3 1392.7,1340.3 1388.7,1340.3 1364,1335.9ZM1388.7,1336.3 1392.7,1336.3 1417.5,1340.5 1417.5,1344.5 1413.5,1344.5 1388.7,1340.3ZM1413.5,1340.5 1417.5,1340.5 1442.2,1344.2 1442.2,1348.2 1438.2,1348.2 1413.5,1344.5ZM1438.2,1344.2 1442.2,1344.2 1466.9,1348 1466.9,1352 1462.9,1352 1438.2,1348.2ZM1462.9,1348 1466.9,1348 1491.6,1351.2 1491.6,1355.2 1487.6,1355.2 1462.9,1352ZM1487.6,1351.2 1491.6,1351.2 1529.5,1355 1529.5,1359 1525.5,1359 1487.6,1355.2ZM1525.5,1355 1529.5,1355 1577,1360.1 1577,1364.1 1573,1364.1 1525.5,1359ZM1573,1360.1 1577,1360.1 1624.5,1364 1624.5,1368 1620.5,1368 1573,1364.1ZM1620.5,1364 1624.5,1364 1672,1367.2 1672,1371.2 1668,1371.2 1620.5,1368ZM1668,1367.2 1672,1367.2 1719.5,1370.8 1719.5,1374.8 1715.5,1374.8 1668,1371.2ZM1715.5,1370.8 1719.5,1370.8 1767.8,1375.1 1767.8,1379.1 1763.8,1379.1 1715.5,1374.8Z"/>
<path fill="#008000" fill-rule="nonzero" d="M296.7,557.3 298.5,545.4 302.5,545.4 302.5,549.4 300.7,561.3 296.7,561.3ZM298.5,545.4 300.3,528.9 304.3,528.9 304.3,532.9 302.5,549.4 298.5,549.4ZM300.3,528.9 304,506.7 308,506.7 308,510.7 304.3,532.9 300.3,532.9ZM304,506.7 307.7,484.4 311.7,484.4 311.7,488.4 308,510.7 304,510.7ZM307.7,484.4 311.4,462.1 315.4,462.1 315.4,466.1 311.7,488.4 307.7,488.4ZM311.4,462.1 314.4,447.2 318.4,447.2 318.4,451.2 315.4,466.1 311.4,466.1ZM314.4,447.2 316.9,435.4 320.9,435.4 320.9,439.4 318.4,451.2 314.4,451.2ZM316.9,435.4 322.6,430.9 326.6,430.9 326.6,434.9 320.9,439.4 316.9,439.4ZM322.6,430.9 328.5,423.5 332.5,423.5 332.5,427.5 326.6,434.9 322.6,434.9ZM328.5,423.5 332.2,413.1 336.2,413.1 336.2,417.1 332.5,427.5 328.5,427.5ZM332.2,413.1 335.2,401.2 339.2,401.2 339.2,405.2 336.2,417.1 332.2,417.1ZM335.2,401.2 337.4,383.4 341.4,383.4 341.4,387.4 339.2,405.2 335.2,405.2ZM337.4,383.4 339.6,365.6 343.6,365.6 343.6,369.6 341.4,387.4 337.4,387.4ZM339.6,365.6 341.9,343.3 345.9,343.3 345.9,347.3 343.6,369.6 339.6,369.6ZM341.9,343.3 344.8,321 348.8,321 348.8,325 345.9,347.3 341.9,347.3ZM344.8,321 349.4,285.9 353.4,285.9 353.4,289.9 348.8,325 344.8,325ZM349.4,285.9 352.4,263.7 356.4,263.7 356.4,267.7 353.4,289.9 349.4,289.9ZM352.4,263.7 355.3,245.8 359.3,245.8 359.3,249.8 356.4,267.7 352.4,267.7ZM355.3,245.8 358.3,235.4 362.3,235.4 362.3,239.4 359.3,249.8 355.3,249.8ZM358.3,235.4 361.1,231 365.1,231 365.1,235 362.3,239.4 358.3,239.4ZM361.1,231 363.6,227.3 367.6,227.3 367.6,231.3 365.1,235 361.1,235ZM363.6,227.3 367.6,227.3 371.1,228.8 371.1,232.8 367.1,232.8 363.6,231.3ZM367.1,228.8 371.1,228.8 377.1,234.7 377.1,238.7 373.1,238.7 367.1,232.8ZM373.1,234.7 377.1,234.7 384.5,240.6 384.5,244.6 380.5,244.6 373.1,238.7ZM380.5,240.6 385.7,237.7 389.7,237.7 389.7,241.7 384.5,244.6 380.5,244.6ZM385.7,237.7 389.4,232.5 393.4,232.5 393.4,236.5 389.7,241.7 385.7,241.7ZM389.4,232.5 391.7,220.6 395.7,220.6 395.7,224.6 393.4,236.5 389.4,236.5ZM391.7,220.6 394.6,202.8 398.6,202.8 398.6,206.8 395.7,224.6 391.7,224.6ZM394.6,202.8 397.6,179 401.6,179 401.6,183 398.6,206.8 394.6,206.8ZM397.6,179 400.6,155.2 404.6,155.2 404.6,159.2 401.6,183 397.6,183ZM400.6,155.2 403.6,133 407.6,133 407.6,137 404.6,159.2 400.6,159.2ZM403.6,133 406.5,115.1 410.5,115.1 410.5,119.1 407.6,137 403.6,137ZM406.5,115.1 408.8,109.9 412.8,109.9 412.8,113.9 410.5,119.1 406.5,119.1ZM408.8,109.9 412.5,104.7 416.5,104.7 416.5,108.7 412.8,113.9 408.8,113.9ZM412.5,104.7 416.9,99.5 420.9,99.5 420.9,103.5 416.5,108.7 412.5,108.7ZM416.9,99.5 420.3,96.1 424.3,96.1 424.3,100.1 420.9,103.5 416.9,103.5ZM420.3,96.1 424.3,96.1 428.3,102.5 428.3,106.5 424.3,106.5 420.3,100.1ZM424.3,102.5 428.3,102.5 432,104 432,108 428,108 424.3,106.5ZM428,104 435.7,104 435.7,108 428,108ZM431.7,104 435.7,104 439.4,112.2 439.4,116.2 435.4,116.2 431.7,108ZM435.4,112.2 439.4,112.2 443.9,128.5 443.9,132.5 439.9,132.5 435.4,116.2ZM439.9,128.5 443.9,128.5 448.3,147.8 448.3,151.8 444.3,151.8 439.9,132.5ZM444.3,147.8 448.3,147.8 452.8,173.1 452.8,177.1 448.8,177.1 444.3,151.8ZM448.8,173.1 452.8,173.1 457.3,198.3 457.3,202.3 453.3,202.3 448.8,177.1ZM453.3,198.3 457.3,198.3 460.2,223.6 460.2,227.6 456.2,227.6 453.3,202.3ZM456.2,223.6 460.2,223.6 462.5,245.8 462.5,249.8 458.5,249.8 456.2,227.6ZM458.5,245.8 462.5,245.8 464.7,271.1 464.7,275.1 460.7,275.1 458.5,249.8ZM460.7,271.1 464.7,271.1 466.9,297.8 466.9,301.8 462.9,301.8 460.7,275.1ZM462.9,297.8 466.9,297.8 468.8,321 468.8,325 464.8,325 462.9,301.8ZM464.8,321 468.8,321 472.1,358.1 472.1,362.1 468.1,362.1 464.8,325ZM468.1,358.1 472.1,358.1 475.1,395.3 475.1,399.3 471.1,399.3 468.1,362.1ZM471.1,395.3 475.1,395.3 479.5,432.4 479.5,436.4 475.5,436.4 471.1,399.3ZM475.5,432.4 479.5,432.4 483.2,469.5 483.2,473.5 479.2,473.5 475.5,436.4ZM479.2,469.5 483.2,469.5 488.4,506.7 488.4,510.7 484.4,510.7 479.2,473.5ZM484.4,506.7 488.4,506.7 494.4,536.4 494.4,540.4 490.4,540.4 484.4,510.7ZM490.4,536.4 494.4,536.4 500.3,567.7 500.3,571.7 496.3,571.7 490.4,540.4ZM496.3,567.7 500.3,567.7 506.3,604.8 506.3,608.8 502.3,608.8 496.3,571.7ZM502.3,604.8 506.3,604.8 512.2,634.5 512.2,638.5 508.2,638.5 502.3,608.8ZM508.2,634.5 512.2,634.5 518.2,671.7 518.2,675.7 514.2,675.7 508.2,638.5ZM514.2,671.7 518.2,671.7 524.1,708.8 524.1,712.8 520.1,712.8 514.2,675.7ZM520.1,708.8 524.1,708.8 531.5,745.9 531.5,749.9 527.5,749.9 520.1,712.8ZM527.5,745.9 531.5,745.9 541.2,781 541.2,785 537.2,785 527.5,749.9ZM537.2,781 541.2,781 551.9,816.4 551.9,820.4 547.9,820.4 537.2,785ZM547.9,816.4 551.9,816.4 563,862.3 563,866.3 559,866.3 547.9,820.4ZM559,862.3 563,862.3 574.1,906.5 574.1,910.5 570.1,910.5 559,866.3ZM570.1,906.5 574.1,906.5 586.5,948.5 586.5,952.5 582.5,952.5 570.1,910.5ZM582.5,948.5 586.5,948.5 598.8,990.5 598.8,994.5 594.8,994.5 582.5,952.5ZM594.8,990.5 598.8,990.5 613.7,1035 613.7,1039 609.7,1039 594.8,994.5ZM609.7,1035 613.7,1035 628.5,1074.6 628.5,1078.6 624.5,1078.6 609.7,1039ZM624.5,1074.6 628.5,1074.6 645.8,1111.6 645.8,1115.6 641.8,1115.6 624.5,1078.6ZM641.8,1111.6 645.8,1111.6 665.6,1143.8 665.6,1147.8 661.6,1147.8 641.8,1115.6ZM661.6,1143.8 665.6,1143.8 685.4,1168.5 685.4,1172.5 681.4,1172.5 661.6,1147.8ZM681.4,1168.5 685.4,1168.5 705.1,1188.2 705.1,1192.2 701.1,1192.2 681.4,1172.5ZM701.1,1188.2 705.1,1188.2 724.9,1201.8 724.9,1205.8 720.9,1205.8 701.1,1192.2ZM720.9,1201.8 724.9,1201.8 744.7,1209.3 744.7,1213.3 740.7,1213.3 720.9,1205.8ZM740.7,1209.3 744.7,1209.3 764.4,1211.7 764.4,1215.7 760.4,1215.7 740.7,1213.3ZM760.4,1211.7 780.2,1210.5 784.2,1210.5 784.2,1214.5 764.4,1215.7 760.4,1215.7ZM780.2,1210.5 804.9,1206.8 808.9,1206.8 808.9,1210.8 784.2,1214.5 780.2,1214.5ZM804.9,1206.8 827.2,1205.1 831.2,1205.1 831.2,1209.1 808.9,1210.8 804.9,1210.8ZM827.2,1205.1 831.2,1205.1 853.4,1207.5 853.4,1211.5 849.4,1211.5 827.2,1209.1ZM849.4,1207.5 853.4,1207.5 875.7,1210.5 875.7,1214.5 871.7,1214.5 849.4,1211.5ZM871.7,1210.5 875.7,1210.5 895.4,1215.4 895.4,1219.4 891.4,1219.4 871.7,1214.5ZM891.4,1215.4 895.4,1215.4 917.7,1222.9 917.7,1226.9 913.7,1226.9 891.4,1219.4ZM913.7,1222.9 917.7,1222.9 942.4,1232.7 942.4,1236.7 938.4,1236.7 913.7,1226.9ZM938.4,1232.7 942.4,1232.7 967.1,1245.1 967.1,1249.1 963.1,1249.1 938.4,1236.7ZM963.1,1245.1 967.1,1245.1 986.9,1255 986.9,1259 982.9,1259 963.1,1249.1ZM982.9,1255 986.9,1255 1004.2,1266.3 1004.2,1270.3 1000.2,1270.3 982.9,1259ZM1000.2,1266.3 1004.2,1266.3 1022,1277.5 1022,1281.5 1018,1281.5 1000.2,1270.3ZM1018,1277.5 1022,1277.5 1041.8,1289.9 1041.8,1293.9 1037.8,1293.9 1018,1281.5ZM1037.8,1289.9 1041.8,1289.9 1061.5,1299.8 1061.5,1303.8 1057.5,1303.8 1037.8,1293.9ZM1057.5,1299.8 1061.5,1299.8 1081.3,1308.4 1081.3,1312.4 1077.3,1312.4 1057.5,1303.8ZM1077.3,1308.4 1081.3,1308.4 1101.1,1315.8 1101.1,1319.8 1097.1,1319.8 1077.3,1312.4ZM1097.1,1315.8 1101.1,1315.8 1120.9,1323.2 1120.9,1327.2 1116.9,1327.2 1097.1,1319.8ZM1116.9,1323.2 1120.9,1323.2 1145.6,1330.7 1145.6,1334.7 1141.6,1334.7 1116.9,1327.2ZM1141.6,1330.7 1145.6,1330.7 1170.3,1336.8 1170.3,1340.8 1166.3,1340.8 1141.6,1334.7ZM1166.3,1336.8 1170.3,1336.8 1195,1343 1195,1347 1191,1347 1166.3,1340.8ZM1191,1343 1195,1343 1219.7,1348.4 1219.7,1352.4 1215.7,1352.4 1191,1347ZM1215.7,1348.4 1219.7,1348.4 1244.4,1352.9 1244.4,1356.9 1240.4,1356.9 1215.7,1352.4ZM1240.4,1352.9 1244.4,1352.9 1269.2,1357.1 1269.2,1361.1 1265.2,1361.1 1240.4,1356.9ZM1265.2,1357.1 1269.2,1357.1 1293.9,1361.1 1293.9,1365.1 1289.9,1365.1 1265.2,1361.1ZM1289.9,1361.1 1293.9,1361.1 1318.6,1364 1318.6,1368 1314.6,1368 1289.9,1365.1ZM1314.6,1364 1318.6,1364 1343.3,1367 1343.3,1371 1339.3,1371 1314.6,1368ZM1339.3,1367 1343.3,1367 1368,1369.7 1368,1373.7 1364,1373.7 1339.3,1371ZM1364,1369.7 1368,1369.7 1392.7,1372.2 1392.7,1376.2 1388.7,1376.2 1364,1373.7ZM1388.7,1372.2 1392.7,1372.2 1417.5,1374.6 1417.5,1378.6 1413.5,1378.6 1388.7,1376.2ZM1413.5,1374.6 1417.5,1374.6 1442.2,1376.4 1442.2,1380.4 1438.2,1380.4 1413.5,1378.6ZM1438.2,1376.4 1442.2,1376.4 1466.9,1378.4 1466.9,1382.4 1462.9,1382.4 1438.2,1380.4ZM1462.9,1378.4 1466.9,1378.4 1491.6,1379.6 1491.6,1383.6 1487.6,1383.6 1462.9,1382.4ZM1487.6,1379.6 1491.6,1379.6 1529.5,1383 1529.5,1387 1525.5,1387 1487.6,1383.6ZM1525.5,1383 1529.5,1383 1577,1385.4 1577,1389.4 1573,1389.4 1525.5,1387ZM1573,1385.4 1577,1385.4 1624.5,1386.7 1624.5,1390.7 1620.5,1390.7 1573,1389.4ZM1620.5,1386.7 1624.5,1386.7 1672,1387.3 1672,1391.3 1668,1391.3 1620.5,1390.7ZM1668,1387.3 1672,1387.3 1719.5,1388.1 1719.5,1392.1 1715.5,1392.1 1668,1391.3ZM1715.5,1388.1 1719.5,1388.1 1767.8,1388.6 1767.8,1392.6 1763.8,1392.6 1715.5,1392.1Z"/>
<path fill="#FF00FF" fill-rule="nonzero" d="M296.7,622.7 300.6,604.8 304.6,604.8 304.6,608.8 300.7,626.7 296.7,626.7ZM300.6,604.8 304.4,590 308.4,590 308.4,594 304.6,608.8 300.6,608.8ZM304.4,590 307.9,575.1 311.9,575.1 311.9,579.1 308.4,594 304.4,594ZM307.9,575.1 311.6,548.2 315.6,548.2 315.6,552.2 311.9,579.1 307.9,579.1ZM311.6,548.2 315.3,531.9 319.3,531.9 319.3,535.9 315.6,552.2 311.6,552.2ZM315.3,531.9 319,517 323,517 323,521 319.3,535.9 315.3,535.9ZM319,517 323.5,505.2 327.5,505.2 327.5,509.2 323,521 319,521ZM323.5,505.2 330.9,496.3 334.9,496.3 334.9,500.3 327.5,509.2 323.5,509.2ZM330.9,496.3 335.3,476.9 339.3,476.9 339.3,480.9 334.9,500.3 330.9,500.3ZM335.3,476.9 338.3,454.7 342.3,454.7 342.3,458.7 339.3,480.9 335.3,480.9ZM338.3,454.7 341.3,432.4 345.3,432.4 345.3,436.4 342.3,458.7 338.3,458.7ZM341.3,432.4 344.2,410.1 348.2,410.1 348.2,414.1 345.3,436.4 341.3,436.4ZM344.2,410.1 347.2,387.8 351.2,387.8 351.2,391.8 348.2,414.1 344.2,414.1ZM347.2,387.8 350.2,365.6 354.2,365.6 354.2,369.6 351.2,391.8 347.2,391.8ZM350.2,365.6 353.2,343.3 357.2,343.3 357.2,347.3 354.2,369.6 350.2,369.6ZM353.2,343.3 356.1,321 360.1,321 360.1,325 357.2,347.3 353.2,347.3ZM356.1,321 358.4,309 362.4,309 362.4,313 360.1,325 356.1,325ZM358.4,309 363.6,306 367.6,306 367.6,310 362.4,313 358.4,313ZM363.6,306 375,306 375,310 363.6,310ZM371,306 375,306 380.9,309.7 380.9,313.7 376.9,313.7 371,310ZM376.9,309.7 380.9,309.7 386.9,312.7 386.9,316.7 382.9,316.7 376.9,313.7ZM382.9,312.7 392.1,312.7 392.1,316.7 382.9,316.7ZM388.1,312.7 391.8,303.8 395.8,303.8 395.8,307.8 392.1,316.7 388.1,316.7ZM391.8,303.8 394.7,288.9 398.7,288.9 398.7,292.9 395.8,307.8 391.8,307.8ZM394.7,288.9 397.7,263.7 401.7,263.7 401.7,267.7 398.7,292.9 394.7,292.9ZM397.7,263.7 400.7,241.4 404.7,241.4 404.7,245.4 401.7,267.7 397.7,267.7ZM400.7,241.4 403.7,219.1 407.7,219.1 407.7,223.1 404.7,245.4 400.7,245.4ZM403.7,219.1 406.6,202.8 410.6,202.8 410.6,206.8 407.7,223.1 403.7,223.1ZM406.6,202.8 409.6,190.9 413.6,190.9 413.6,194.9 410.6,206.8 406.6,206.8ZM409.6,190.9 414.1,183.5 418.1,183.5 418.1,187.5 413.6,194.9 409.6,194.9ZM414.1,183.5 419.7,173.1 423.7,173.1 423.7,177.1 418.1,187.5 414.1,187.5ZM419.7,173.1 425,161.2 429,161.2 429,165.2 423.7,177.1 419.7,177.1ZM425,161.2 431,149.3 435,149.3 435,153.3 429,165.2 425,165.2ZM431,149.3 440.9,149.3 440.9,153.3 431,153.3ZM436.9,149.3 440.9,149.3 446.9,151.5 446.9,155.5 442.9,155.5 436.9,153.3ZM442.9,151.5 446.9,151.5 454.3,155.2 454.3,159.2 450.3,159.2 442.9,155.5ZM450.3,155.2 454.3,155.2 458.7,164.1 458.7,168.1 454.7,168.1 450.3,159.2ZM454.7,164.1 458.7,164.1 464.7,170.8 464.7,174.8 460.7,174.8 454.7,168.1ZM460.7,170.8 464.7,170.8 469.1,184.9 469.1,188.9 465.1,188.9 460.7,174.8ZM465.1,184.9 469.1,184.9 473.6,202.8 473.6,206.8 469.6,206.8 465.1,188.9ZM469.6,202.8 473.6,202.8 478,220.6 478,224.6 474,224.6 469.6,206.8ZM474,220.6 478,220.6 482.5,238.4 482.5,242.4 478.5,242.4 474,224.6ZM478.5,238.4 482.5,238.4 487,256.2 487,260.2 483,260.2 478.5,242.4ZM483,256.2 488.9,251 492.9,251 492.9,255 487,260.2 483,260.2ZM488.9,251 492.9,251 495.9,262.2 495.9,266.2 491.9,266.2 488.9,255ZM491.9,262.2 495.9,262.2 501.8,278.5 501.8,282.5 497.8,282.5 491.9,266.2ZM497.8,278.5 501.8,278.5 507.8,293.4 507.8,297.4 503.8,297.4 497.8,282.5ZM503.8,293.4 507.8,293.4 513.7,309.7 513.7,313.7 509.7,313.7 503.8,297.4ZM509.7,309.7 513.7,309.7 517.4,321 517.4,325 513.4,325 509.7,313.7ZM513.4,321 517.4,321 525.6,340.3 525.6,344.3 521.6,344.3 513.4,325ZM521.6,340.3 525.6,340.3 533,368.5 533,372.5 529,372.5 521.6,344.3ZM529,368.5 533,368.5 541.9,387.8 541.9,391.8 537.9,391.8 529,372.5ZM537.9,387.8 541.9,387.8 547.9,396.7 547.9,400.7 543.9,400.7 537.9,391.8ZM543.9,396.7 547.9,396.7 553.8,410.1 553.8,414.1 549.8,414.1 543.9,400.7ZM549.8,410.1 553.8,410.1 559.7,430.9 559.7,434.9 555.7,434.9 549.8,414.1ZM555.7,430.9 559.7,430.9 567.2,454.7 567.2,458.7 563.2,458.7 555.7,434.9ZM563.2,454.7 567.2,454.7 579.1,490.1 579.1,494.1 575.1,494.1 563.2,458.7ZM575.1,490.1 579.1,490.1 591.4,527.2 591.4,531.2 587.4,531.2 575.1,494.1ZM587.4,527.2 591.4,527.2 601.3,564.3 601.3,568.3 597.3,568.3 587.4,531.2ZM597.3,564.3 601.3,564.3 613.7,606.3 613.7,610.3 609.7,610.3 597.3,568.3ZM609.7,606.3 613.7,606.3 626,645.8 626,649.8 622,649.8 609.7,610.3ZM622,645.8 626,645.8 638.4,680.4 638.4,684.4 634.4,684.4 622,649.8ZM634.4,680.4 638.4,680.4 650.7,715 650.7,719 646.7,719 634.4,684.4ZM646.7,715 650.7,715 663.1,747.2 663.1,751.2 659.1,751.2 646.7,719ZM659.1,747.2 663.1,747.2 675.5,779.3 675.5,783.3 671.5,783.3 659.1,751.2ZM671.5,779.3 675.5,779.3 687.8,809 687.8,813 683.8,813 671.5,783.3ZM683.8,809 687.8,809 700.2,836.2 700.2,840.2 696.2,840.2 683.8,813ZM696.2,836.2 700.2,836.2 715,862.3 715,866.3 711,866.3 696.2,840.2ZM711,862.3 715,862.3 724.9,876.8 724.9,880.8 720.9,880.8 711,866.3ZM720.9,876.8 724.9,876.8 739.7,894.1 739.7,898.1 735.7,898.1 720.9,880.8ZM735.7,894.1 739.7,894.1 747.1,905.3 747.1,909.3 743.1,909.3 735.7,898.1ZM743.1,905.3 747.1,905.3 759.5,913.9 759.5,917.9 755.5,917.9 743.1,909.3ZM755.5,913.9 759.5,913.9 769.4,923.8 769.4,927.8 765.4,927.8 755.5,917.9ZM765.4,923.8 769.4,923.8 784.2,931.7 784.2,935.7 780.2,935.7 765.4,927.8ZM780.2,931.7 784.2,931.7 794.1,933.2 794.1,937.2 790.1,937.2 780.2,935.7ZM790.1,933.2 794.1,933.2 808.9,941.1 808.9,945.1 804.9,945.1 790.1,937.2ZM804.9,941.1 808.9,941.1 821.3,952.2 821.3,956.2 817.3,956.2 804.9,945.1ZM817.3,952.2 821.3,952.2 831.2,965.8 831.2,969.8 827.2,969.8 817.3,956.2ZM827.2,965.8 831.2,965.8 843.5,978.2 843.5,982.2 839.5,982.2 827.2,969.8ZM839.5,978.2 843.5,978.2 853.4,993 853.4,997 849.4,997 839.5,982.2ZM849.4,993 853.4,993 863.3,1005.4 863.3,1009.4 859.3,1009.4 849.4,997ZM859.3,1005.4 863.3,1005.4 875.7,1020.2 875.7,1024.2 871.7,1024.2 859.3,1009.4ZM871.7,1020.2 875.7,1020.2 888,1040 888,1044 884,1044 871.7,1024.2ZM884,1040 888,1040 897.9,1057.3 897.9,1061.3 893.9,1061.3 884,1044ZM893.9,1057.3 897.9,1057.3 910.3,1072.1 910.3,1076.1 906.3,1076.1 893.9,1061.3ZM906.3,1072.1 910.3,1072.1 920.2,1089.4 920.2,1093.4 916.2,1093.4 906.3,1076.1ZM916.2,1089.4 920.2,1089.4 932.5,1106.7 932.5,1110.7 928.5,1110.7 916.2,1093.4ZM928.5,1106.7 932.5,1106.7 947.3,1119 947.3,1123 943.3,1123 928.5,1110.7ZM943.3,1119 947.3,1119 959.7,1133.9 959.7,1137.9 955.7,1137.9 943.3,1123ZM955.7,1133.9 959.7,1133.9 969.6,1138.8 969.6,1142.8 965.6,1142.8 955.7,1137.9ZM965.6,1138.8 969.6,1138.8 981.9,1149.9 981.9,1153.9 977.9,1153.9 965.6,1142.8ZM977.9,1149.9 981.9,1149.9 994.3,1161.1 994.3,1165.1 990.3,1165.1 977.9,1153.9ZM990.3,1161.1 994.3,1161.1 1006.7,1170.9 1006.7,1174.9 1002.7,1174.9 990.3,1165.1ZM1002.7,1170.9 1006.7,1170.9 1021.5,1178.4 1021.5,1182.4 1017.5,1182.4 1002.7,1174.9ZM1017.5,1178.4 1021.5,1178.4 1022,1178.7 1022,1182.7 1018,1182.7 1017.5,1182.4ZM1018,1178.7 1022,1178.7 1036.8,1188.5 1036.8,1192.5 1032.8,1192.5 1018,1182.7ZM1032.8,1188.5 1036.8,1188.5 1056.6,1197.2 1056.6,1201.2 1052.6,1201.2 1032.8,1192.5ZM1052.6,1197.2 1056.6,1197.2 1071.4,1202.9 1071.4,1206.9 1067.4,1206.9 1052.6,1201.2ZM1067.4,1202.9 1071.4,1202.9 1086.3,1207.1 1086.3,1211.1 1082.3,1211.1 1067.4,1206.9ZM1082.3,1207.1 1086.3,1207.1 1096.1,1210.8 1096.1,1214.8 1092.1,1214.8 1082.3,1211.1ZM1092.1,1210.8 1096.1,1210.8 1108.5,1214.5 1108.5,1218.5 1104.5,1218.5 1092.1,1214.8ZM1104.5,1214.5 1108.5,1214.5 1120.9,1223.1 1120.9,1227.1 1116.9,1227.1 1104.5,1218.5ZM1116.9,1223.1 1120.9,1223.1 1128.3,1230.6 1128.3,1234.6 1124.3,1234.6 1116.9,1227.1ZM1124.3,1230.6 1128.3,1230.6 1143.1,1238 1143.1,1242 1139.1,1242 1124.3,1234.6ZM1139.1,1238 1143.1,1238 1157.9,1245.4 1157.9,1249.4 1153.9,1249.4 1139.1,1242ZM1153.9,1245.4 1157.9,1245.4 1172.8,1252.8 1172.8,1256.8 1168.8,1256.8 1153.9,1249.4ZM1168.8,1252.8 1172.8,1252.8 1182.7,1257.2 1182.7,1261.2 1178.7,1261.2 1168.8,1256.8ZM1178.7,1257.2 1182.7,1257.2 1195,1261.5 1195,1265.5 1191,1265.5 1178.7,1261.2ZM1191,1261.5 1195,1261.5 1207.4,1267.6 1207.4,1271.6 1203.4,1271.6 1191,1265.5ZM1203.4,1267.6 1207.4,1267.6 1219.7,1272.6 1219.7,1276.6 1215.7,1276.6 1203.4,1271.6ZM1215.7,1272.6 1219.7,1272.6 1232.1,1278.8 1232.1,1282.8 1228.1,1282.8 1215.7,1276.6ZM1228.1,1278.8 1232.1,1278.8 1244.4,1282 1244.4,1286 1240.4,1286 1228.1,1282.8ZM1240.4,1282 1244.4,1282 1256.8,1286.2 1256.8,1290.2 1252.8,1290.2 1240.4,1286ZM1252.8,1286.2 1256.8,1286.2 1269.2,1292.3 1269.2,1296.3 1265.2,1296.3 1252.8,1290.2ZM1265.2,1292.3 1269.2,1292.3 1281.5,1296.1 1281.5,1300.1 1277.5,1300.1 1265.2,1296.3ZM1277.5,1296.1 1281.5,1296.1 1293.9,1299.8 1293.9,1303.8 1289.9,1303.8 1277.5,1300.1ZM1289.9,1299.8 1293.9,1299.8 1306.2,1303.5 1306.2,1307.5 1302.2,1307.5 1289.9,1303.8ZM1302.2,1303.5 1306.2,1303.5 1318.6,1306.7 1318.6,1310.7 1314.6,1310.7 1302.2,1307.5ZM1314.6,1306.7 1318.6,1306.7 1330.9,1307.2 1330.9,1311.2 1326.9,1311.2 1314.6,1310.7ZM1326.9,1307.2 1330.9,1307.2 1343.3,1310.1 1343.3,1314.1 1339.3,1314.1 1326.9,1311.2ZM1339.3,1310.1 1343.3,1310.1 1355.7,1312.1 1355.7,1316.1 1351.7,1316.1 1339.3,1314.1ZM1351.7,1312.1 1355.7,1312.1 1368,1314.6 1368,1318.6 1364,1318.6 1351.7,1316.1ZM1364,1314.6 1368,1314.6 1380.4,1315.8 1380.4,1319.8 1376.4,1319.8 1364,1318.6ZM1376.4,1315.8 1380.4,1315.8 1392.7,1317.6 1392.7,1321.6 1388.7,1321.6 1376.4,1319.8ZM1388.7,1317.6 1392.7,1317.6 1417.5,1318.3 1417.5,1322.3 1413.5,1322.3 1388.7,1321.6ZM1413.5,1318.3 1417.5,1318.3 1427.3,1321.5 1427.3,1325.5 1423.3,1325.5 1413.5,1322.3ZM1423.3,1321.5 1427.3,1321.5 1442.2,1322 1442.2,1326 1438.2,1326 1423.3,1325.5ZM1438.2,1322 1442.2,1322 1461.9,1322.5 1461.9,1326.5 1457.9,1326.5 1438.2,1326ZM1457.9,1322.5 1461.9,1322.5 1471.8,1325 1471.8,1329 1467.8,1329 1457.9,1326.5ZM1467.8,1325 1487.5,1324.5 1491.5,1324.5 1491.5,1328.5 1471.8,1329 1467.8,1329ZM1487.5,1324.5 1491.5,1324.5 1496.2,1327.6 1496.2,1331.6 1492.2,1331.6 1487.5,1328.5ZM1492.2,1327.6 1513.7,1327.6 1513.7,1331.6 1492.2,1331.6ZM1509.7,1327.6 1513.7,1327.6 1518.4,1331.3 1518.4,1335.3 1514.4,1335.3 1509.7,1331.6ZM1514.4,1331.3 1553.2,1331.3 1553.2,1335.3 1514.4,1335.3ZM1549.2,1331.3 1553.2,1331.3 1558,1334 1558,1338 1554,1338 1549.2,1335.3ZM1554,1334 1645.1,1334 1645.1,1338 1554,1338ZM1641.1,1334 1645.1,1334 1648.2,1336.6 1648.2,1340.6 1644.2,1340.6 1641.1,1338ZM1644.2,1336.6 1695.7,1336.6 1695.7,1340.6 1644.2,1340.6ZM1691.7,1336.6 1695.7,1336.6 1699.7,1339.8 1699.7,1343.8 1695.7,1343.8 1691.7,1340.6ZM1695.7,1339.8 1744.8,1339.8 1744.8,1343.8 1695.7,1343.8ZM1740.8,1339.8 1744.8,1339.8 1749.6,1343 1749.6,1347 1745.6,1347 1740.8,1343.8ZM1745.6,1343 1767.8,1343 1767.8,1347 1745.6,1347Z"/>
<path fill="none" stroke="#960084" stroke-width="3.7" d="M298.8,637.0L305.5,612.4M305.6,592.6L310.8,567.6M316.2,546.4L326.2,522.9M334.6,503.4L339.1,478.2M342.2,457.5L344.8,432.1M347.4,411.4L350.0,386.0M352.4,365.3L356.9,340.1M373.3,338.7L391.6,346.7M394.1,323.5L398.8,298.4M401.4,276.8L405.9,251.6M410.7,229.4L426.3,209.1M442.7,203.3L453.7,226.3M456.3,247.0L462.3,271.7M464.5,293.2L469.0,318.4M471.6,338.9L474.6,364.2M476.7,385.4L480.6,410.6M485.3,431.5L492.8,455.8M497.3,476.4L504.6,500.8M509.9,521.0L517.9,545.3M523.7,566.7L533.1,590.5M549.4,604.7L559.4,628.2M548.8,604.8L559.6,627.9M570.4,646.9L585.7,667.3M595.2,685.7L609.9,706.4M623.6,724.2L643.0,740.8M657.5,752.7L679.6,765.4M694.7,776.9L718.9,785.0M739.3,789.6L764.5,794.1M785.7,802.2L807.1,816.0M823.5,831.4L842.3,848.6M854.5,864.9L865.7,887.8M874.5,905.0L885.4,928.1M893.3,947.9L905.2,970.4M914.6,989.0L925.4,1012.1M934.9,1031.3L945.8,1054.3M954.2,1074.0L964.9,1097.2M972.7,1116.3L983.5,1139.4M991.3,1159.4L1001.2,1182.8M1010.4,1203.1L1022.4,1225.6M1013.3,1200.4L1023.0,1224.0M1033.2,1243.9L1048.3,1264.4M1067.0,1280.3L1087.9,1294.8M1104.3,1306.7L1128.4,1315.3M1146.2,1323.3L1170.6,1330.9M1191.2,1336.8L1215.8,1343.3M1235.4,1348.6L1260.6,1353.0M1280.5,1357.7L1305.7,1361.5M1326.2,1363.9L1351.4,1367.7M1371.3,1368.1L1396.6,1370.9M1415.1,1373.9L1440.6,1373.9M1461.5,1373.6L1486.8,1377.4M1461.7,1375.7L1487.2,1376.3M1508.5,1376.2L1533.8,1379.9M1554.7,1379.8L1580.2,1379.8M1601.3,1382.7L1626.8,1382.7M1647.7,1382.7L1673.2,1382.7M1694.2,1382.7L1719.7,1382.7M1740.8,1382.7L1766.2,1382.7"/>
<path fill="none" stroke="#960084" stroke-width="6.1" d="M299.1,635.7L305.2,613.7M305.9,591.3L310.5,568.9M316.7,545.2L325.7,524.1M334.8,502.1L338.9,479.5M342.3,456.2L344.7,433.4M347.5,410.1L349.9,387.3M352.6,364.0L356.7,341.4M374.5,339.2L390.4,346.2M394.3,322.2L398.6,299.7M401.6,275.5L405.7,252.9M411.5,228.4L425.5,210.1M443.3,204.5L453.1,225.1M456.6,248.3L462.0,270.4M464.7,294.5L468.8,317.1M471.8,340.2L474.4,362.9M476.9,386.7L480.4,409.3M485.7,432.7L492.4,454.6M497.7,477.6L504.2,499.6M510.3,522.2L517.5,544.1M524.2,567.9L532.6,589.3M549.9,605.9L558.9,627.0M549.4,606.0L559.0,626.7M571.2,647.9L584.9,666.3M596.0,686.8L609.1,705.3M624.6,725.0L642.0,740.0M658.6,753.3L678.5,764.8M695.9,777.3L717.7,784.6M740.6,789.8L763.2,793.9M786.8,802.9L806.0,815.3M824.5,832.3L841.3,847.7M855.1,866.1L865.1,886.6M875.1,906.2L884.8,926.9M893.9,949.0L904.6,969.3M915.2,990.2L924.8,1010.9M935.5,1032.5L945.2,1053.1M954.7,1075.2L964.4,1096.0M973.3,1117.5L982.9,1138.2M991.8,1160.6L1000.7,1181.6M1011.0,1204.2L1021.8,1224.5M1013.8,1201.6L1022.5,1222.8M1034.0,1244.9L1047.5,1263.4M1068.1,1281.0L1086.8,1294.1M1105.5,1307.1L1127.2,1314.9M1147.4,1323.7L1169.4,1330.5M1192.5,1337.1L1214.5,1343.0M1236.7,1348.8L1259.3,1352.8M1281.8,1357.9L1304.4,1361.3M1327.5,1364.1L1350.1,1367.5M1372.6,1368.2L1395.3,1370.8M1416.4,1373.9L1439.3,1373.9M1462.8,1373.8L1485.5,1377.2M1463.0,1375.7L1485.9,1376.3M1509.8,1376.4L1532.5,1379.7M1556.0,1379.8L1578.9,1379.8M1602.6,1382.7L1625.5,1382.7M1649.0,1382.7L1671.9,1382.7M1695.5,1382.7L1718.4,1382.7M1742.1,1382.7L1764.9,1382.7"/>
</g>
<g fill="#000" shape-rendering="crispEdges">
<rect x="182" y="37" width="6" height="1407"/>
<rect x="1989" y="37" width="6" height="1407"/>
<rect x="157" y="37" width="1838" height="6"/>
<rect x="157" y="1426" width="1838" height="5"/>
<line x1="171.5" y1="1351.5" x2="184" y2="1351.5" stroke="#000" stroke-width="5" stroke-linecap="round"/>
<line x1="159.5" y1="1274.5" x2="184" y2="1274.5" stroke="#000" stroke-width="5" stroke-linecap="round"/>
<line x1="171.5" y1="1197.5" x2="184" y2="1197.5" stroke="#000" stroke-width="5" stroke-linecap="round"/>
<line x1="159.5" y1="1119.5" x2="184" y2="1119.5" stroke="#000" stroke-width="5" stroke-linecap="round"/>
<line x1="171.5" y1="1042.5" x2="184" y2="1042.5" stroke="#000" stroke-width="5" stroke-linecap="round"/>
<line x1="159.5" y1="965.5" x2="184" y2="965.5" stroke="#000" stroke-width="5" stroke-linecap="round"/>
<line x1="171.5" y1="888.5" x2="184" y2="888.5" stroke="#000" stroke-width="5" stroke-linecap="round"/>
<line x1="159.5" y1="811.5" x2="184" y2="811.5" stroke="#000" stroke-width="5" stroke-linecap="round"/>
<line x1="171.5" y1="734.5" x2="184" y2="734.5" stroke="#000" stroke-width="5" stroke-linecap="round"/>
<line x1="159.5" y1="657.5" x2="184" y2="657.5" stroke="#000" stroke-width="5" stroke-linecap="round"/>
<line x1="171.5" y1="579.5" x2="184" y2="579.5" stroke="#000" stroke-width="5" stroke-linecap="round"/>
<line x1="159.5" y1="502.5" x2="184" y2="502.5" stroke="#000" stroke-width="5" stroke-linecap="round"/>
<line x1="171.5" y1="425.5" x2="184" y2="425.5" stroke="#000" stroke-width="5" stroke-linecap="round"/>
<line x1="159.5" y1="348.5" x2="184" y2="348.5" stroke="#000" stroke-width="5" stroke-linecap="round"/>
<line x1="171.5" y1="271.5" x2="184" y2="271.5" stroke="#000" stroke-width="5" stroke-linecap="round"/>
<line x1="159.5" y1="194.5" x2="184" y2="194.5" stroke="#000" stroke-width="5" stroke-linecap="round"/>
<line x1="171.5" y1="117.5" x2="184" y2="117.5" stroke="#000" stroke-width="5" stroke-linecap="round"/>
<line x1="298" y1="1429" x2="298" y2="1454" stroke="#000" stroke-width="6" stroke-linecap="round"/>
<line x1="411" y1="1429" x2="411" y2="1441" stroke="#000" stroke-width="6" stroke-linecap="round"/>
<line x1="524" y1="1429" x2="524" y2="1454" stroke="#000" stroke-width="6" stroke-linecap="round"/>
<line x1="637" y1="1429" x2="637" y2="1441" stroke="#000" stroke-width="6" stroke-linecap="round"/>
<line x1="750" y1="1429" x2="750" y2="1454" stroke="#000" stroke-width="6" stroke-linecap="round"/>
<line x1="863" y1="1429" x2="863" y2="1441" stroke="#000" stroke-width="6" stroke-linecap="round"/>
<line x1="976" y1="1429" x2="976" y2="1454" stroke="#000" stroke-width="6" stroke-linecap="round"/>
<line x1="1088" y1="1429" x2="1088" y2="1441" stroke="#000" stroke-width="6" stroke-linecap="round"/>
<line x1="1201" y1="1429" x2="1201" y2="1454" stroke="#000" stroke-width="6" stroke-linecap="round"/>
<line x1="1314" y1="1429" x2="1314" y2="1441" stroke="#000" stroke-width="6" stroke-linecap="round"/>
<line x1="1427" y1="1429" x2="1427" y2="1454" stroke="#000" stroke-width="6" stroke-linecap="round"/>
<line x1="1540" y1="1429" x2="1540" y2="1441" stroke="#000" stroke-width="6" stroke-linecap="round"/>
<line x1="1653" y1="1429" x2="1653" y2="1454" stroke="#000" stroke-width="6" stroke-linecap="round"/>
<line x1="1766" y1="1429" x2="1766" y2="1441" stroke="#000" stroke-width="6" stroke-linecap="round"/>
<line x1="1879" y1="1429" x2="1879" y2="1454" stroke="#000" stroke-width="6" stroke-linecap="round"/>
</g>
<text class="tk" x="297.9" y="1514" text-anchor="middle">200</text>
<text class="tk" x="523.8" y="1514" text-anchor="middle">400</text>
<text class="tk" x="749.7" y="1514" text-anchor="middle">600</text>
<text class="tk" x="975.6" y="1514" text-anchor="middle">800</text>
<text class="tk" x="1201.4" y="1514" text-anchor="middle">1000</text>
<text class="tk" x="1427.3" y="1514" text-anchor="middle">1200</text>
<text class="tk" x="1653.2" y="1514" text-anchor="middle">1400</text>
<text class="tk" x="1879.1" y="1514" text-anchor="middle">1600</text>
<text class="tk" x="140" y="1443.5" text-anchor="end">0</text>
<text class="tk" x="140" y="1134.9" text-anchor="end">1</text>
<text class="tk" x="140" y="826.4" text-anchor="end">2</text>
<text class="tk" x="140" y="517.8" text-anchor="end">3</text>
<text class="tk" x="140" y="209.3" text-anchor="end">4</text>
<text class="ti" x="1059.7" y="1608" font-size="63.5" text-anchor="middle" textLength="446.5" lengthAdjust="spacing">Wavelength (nm)</text>
<text class="ti" transform="translate(72,730.5) rotate(-90)" font-size="65" text-anchor="middle" textLength="731" lengthAdjust="spacing">Kubelka-Munk units (c.p.s.)</text>
<rect x="1405" y="188" width="59" height="4" fill="#000000" shape-rendering="crispEdges"/>
<text class="lg" x="1474.4" y="203.0" fill="#000000">Mn(3)CuCeMgAlO</text>
<rect x="1410" y="251" width="60" height="4" fill="#FF8000" shape-rendering="crispEdges"/>
<text class="lg" x="1480.6" y="266.0" fill="#FF8000">Fe(3)CuCeMgAlO</text>
<rect x="1412" y="313" width="15" height="5" fill="#960084" shape-rendering="crispEdges"/>
<rect x="1431" y="313" width="15" height="5" fill="#960084" shape-rendering="crispEdges"/>
<rect x="1450" y="313" width="15" height="5" fill="#960084" shape-rendering="crispEdges"/>
<text class="lg" x="1481.2" y="328.8" fill="#960084">Co(1)CuCeMgAlO</text>
<rect x="1411" y="382" width="60" height="4" fill="#FF00FF" shape-rendering="crispEdges"/>
<text class="lg" x="1483.6" y="398.5" fill="#FF00FF">Co(3)CuCeMgAlO</text>
<rect x="1415" y="445" width="15" height="5" fill="#FF0080" shape-rendering="crispEdges"/>
<rect x="1434" y="445" width="15" height="5" fill="#FF0080" shape-rendering="crispEdges"/>
<rect x="1453" y="445" width="15" height="5" fill="#FF0080" shape-rendering="crispEdges"/>
<text class="lg" x="1484.8" y="460.8" fill="#FF0080">Co(6)CuCeMgAlO</text>
<rect x="1413" y="516" width="59" height="4" fill="#FF0000" shape-rendering="crispEdges"/>
<text class="lg" x="1483.6" y="531.4" fill="#FF0000">Co(9)CuCeMgAlO</text>
<rect x="1413" y="590" width="59" height="4" fill="#008000" shape-rendering="crispEdges"/>
<text class="lg" x="1482.6" y="605.0" fill="#008000">Ni(3)CuCeMgAlO</text>
</svg>
</body></html>
